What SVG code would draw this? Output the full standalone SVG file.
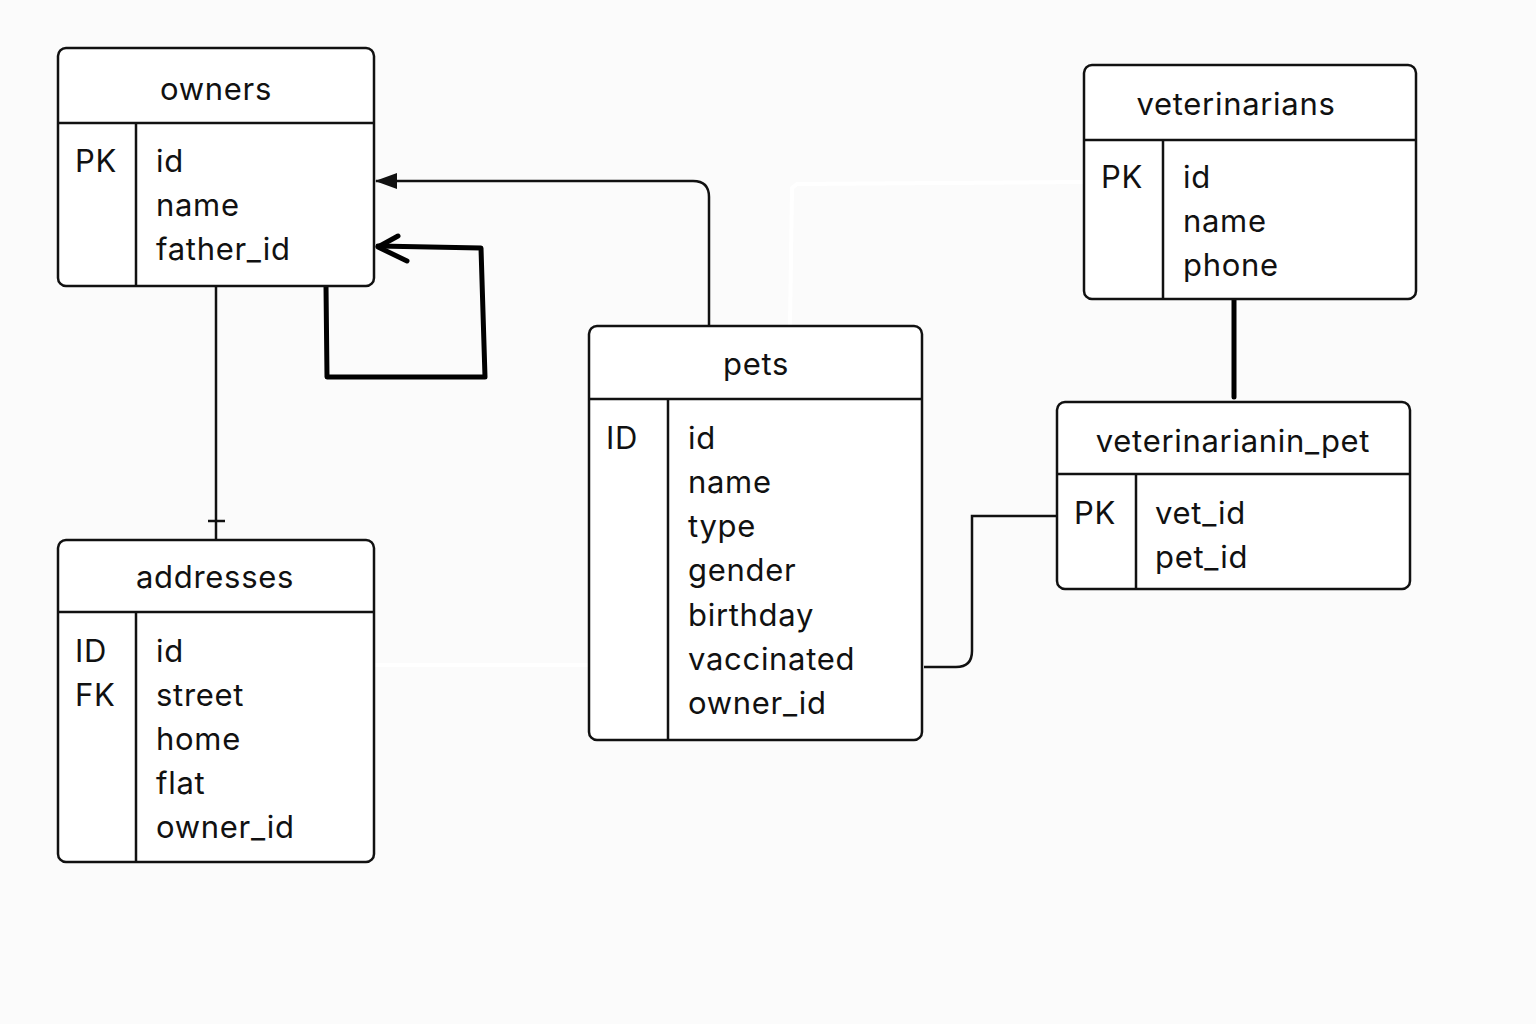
<svg xmlns="http://www.w3.org/2000/svg" width="1536" height="1024" viewBox="0 0 1536 1024">
<defs>
<style>
.box{fill:#ffffff;stroke:#111;stroke-width:2.5}
.div{stroke:#111;stroke-width:2.5;fill:none}
.t{font-family:Inter,"Liberation Sans",sans-serif;font-size:31px;letter-spacing:0.7px;fill:#111}
.title{text-anchor:middle}
.conn{fill:none;stroke:#111;stroke-width:2.5}
.thick{fill:none;stroke:#000;stroke-width:5;stroke-linecap:round;stroke-linejoin:round}
.erase{fill:none;stroke:#ffffff;stroke-width:4;stroke-linecap:round}
</style>
<marker id="arr" viewBox="0 0 22 16" refX="21" refY="8" markerWidth="22" markerHeight="16" markerUnits="userSpaceOnUse" orient="auto">
<path d="M0,0 L22,8 L0,16 Z" fill="#111"/>
</marker>
</defs>
<rect width="1536" height="1024" fill="#fbfbfb"/>

<g id="connectors">
<path class="erase" d="M376,665 L588,665"/>
<path class="erase" d="M1082,182 L797,184 L792,188 L790,325"/>
<path class="conn" d="M709,326 L709,197 Q709,181 693,181 L376,181" marker-end="url(#arr)"/>
<path class="conn" d="M216,287 L216,540"/>
<path class="conn" d="M208,521 L225,521"/>
<path class="conn" d="M924,667 L956,667 Q972,667 972,651 L972,516 L1057,516"/>
<path class="thick" d="M1234,297 L1234,397"/>
<path class="thick" d="M326,286 L327,377 L485,377 L481,248 L378,246"/>
<path class="thick" d="M398,236 L378,247 L407,261"/>
</g>

<g id="owners">
<rect class="box" x="58" y="48" width="316" height="238" rx="8"/>
<path class="div" d="M58,123 L374,123 M136,123 L136,286"/>
<text class="t title" x="216" y="100">owners</text>
<text class="t" x="75" y="172">PK</text>
<text class="t" x="156" y="172">id</text>
<text class="t" x="156" y="216">name</text>
<text class="t" x="156" y="260">father_id</text>
</g>

<g id="veterinarians">
<rect class="box" x="1084" y="65" width="332" height="234" rx="8"/>
<path class="div" d="M1084,140 L1416,140 M1163,140 L1163,299"/>
<text class="t title" x="1236" y="115">veterinarians</text>
<text class="t" x="1101" y="188">PK</text>
<text class="t" x="1183" y="188">id</text>
<text class="t" x="1183" y="232">name</text>
<text class="t" x="1183" y="276">phone</text>
</g>

<g id="veterinarianin_pet">
<rect class="box" x="1057" y="402" width="353" height="187" rx="8"/>
<path class="div" d="M1057,474 L1410,474 M1136,474 L1136,589"/>
<text class="t title" x="1233" y="452">veterinarianin_pet</text>
<text class="t" x="1074" y="524">PK</text>
<text class="t" x="1155" y="524">vet_id</text>
<text class="t" x="1155" y="568">pet_id</text>
</g>

<g id="pets">
<rect class="box" x="589" y="326" width="333" height="414" rx="8"/>
<path class="div" d="M589,399 L922,399 M668,399 L668,740"/>
<text class="t title" x="756" y="375">pets</text>
<text class="t" x="606" y="449">ID</text>
<text class="t" x="688" y="449">id</text>
<text class="t" x="688" y="493">name</text>
<text class="t" x="688" y="537">type</text>
<text class="t" x="688" y="581">gender</text>
<text class="t" x="688" y="626">birthday</text>
<text class="t" x="688" y="670">vaccinated</text>
<text class="t" x="688" y="714">owner_id</text>
</g>

<g id="addresses">
<rect class="box" x="58" y="540" width="316" height="322" rx="8"/>
<path class="div" d="M58,612 L374,612 M136,612 L136,862"/>
<text class="t title" x="215" y="588">addresses</text>
<text class="t" x="75" y="662">ID</text>
<text class="t" x="75" y="706">FK</text>
<text class="t" x="156" y="662">id</text>
<text class="t" x="156" y="706">street</text>
<text class="t" x="156" y="750">home</text>
<text class="t" x="156" y="794">flat</text>
<text class="t" x="156" y="838">owner_id</text>
</g>
</svg>
